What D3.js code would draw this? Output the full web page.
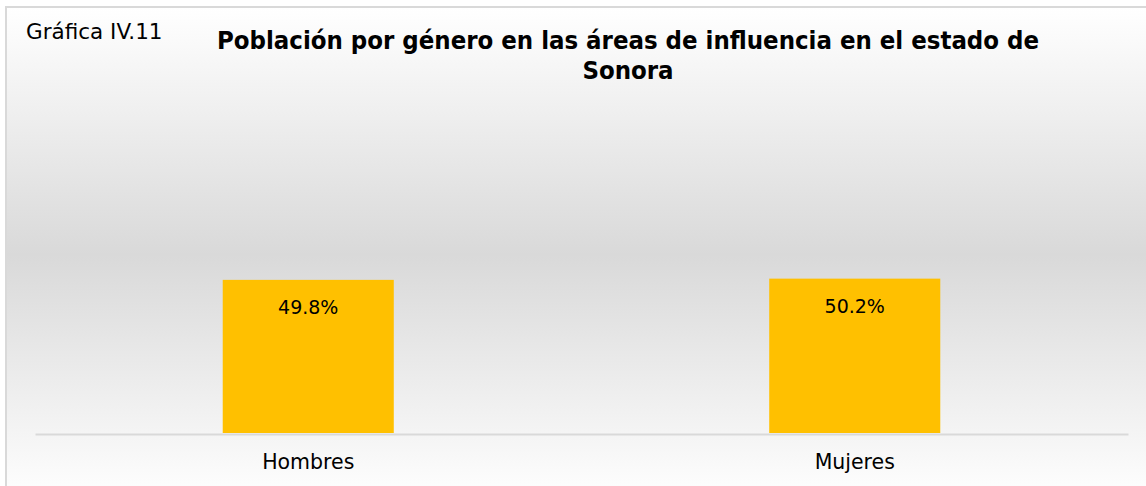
<!DOCTYPE html>
<html>
<head>
<meta charset="utf-8">
<script src="https://cdn.jsdelivr.net/npm/d3@7"></script>
<style>
  body { margin: 0; background: #ffffff; }
  svg { display: block; }
</style>
</head>
<body>
<div id="chart"></div>
<script>
// chart data
var categories = ["Hombres", "Mujeres"];
var values = [0.498, 0.502];
var valueLabels = ["49.8%", "50.2%"];
var chartNumber = "Gráfica IV.11";
var titleLines = ["Población por género en las áreas de influencia en el estado de", "Sonora"];

var svgWidth = 1146;
var svgHeight = 486;

// plot area (axis line at the bottom)
var plot = { left: 35, right: 1128, bottom: 433 };

var svg = d3.select("#chart")
  .append("svg")
  .attr("width", svgWidth)
  .attr("height", svgHeight);

// background gradient: white -> light gray -> white
var defs = svg.append("defs");
var grad = defs.append("linearGradient")
  .attr("id", "bg")
  .attr("x1", 0).attr("y1", 0)
  .attr("x2", 0).attr("y2", 1);
grad.append("stop").attr("offset", "0%").attr("stop-color", "#ffffff");
grad.append("stop").attr("offset", "50%").attr("stop-color", "#d9d9d9");
grad.append("stop").attr("offset", "100%").attr("stop-color", "#ffffff");

svg.append("rect")
  .attr("x", 6)
  .attr("y", 7)
  .attr("width", svgWidth + 10)
  .attr("height", svgHeight + 10)
  .attr("fill", "url(#bg)")
  .attr("stroke", "#d9d9d9")
  .attr("stroke-width", 2);

// scales
var xScale = d3.scaleBand()
  .domain(categories)
  .range([plot.left, plot.right])
  .paddingInner(0.687)
  .paddingOuter(0.3435);

var yScale = d3.scaleLinear()
  .domain([0, 0.6])
  .range([plot.bottom, plot.bottom - 0.6 * 307.5]);

// bars
svg.append("g")
  .selectAll("rect")
  .data(values)
  .enter()
  .append("rect")
  .attr("x", (d, i) => xScale(categories[i]))
  .attr("y", d => yScale(d))
  .attr("width", xScale.bandwidth())
  .attr("height", d => yScale(0) - yScale(d))
  .attr("fill", "#ffc000");

// value labels, inside end
svg.append("g")
  .selectAll("text")
  .data(values)
  .enter()
  .append("text")
  .attr("x", (d, i) => xScale(categories[i]) + xScale.bandwidth() / 2)
  .attr("y", d => yScale(d) + 34)
  .attr("text-anchor", "middle")
  .attr("font-family", "DejaVu Sans")
  .attr("font-size", 19)
  .attr("fill", "#000000")
  .text((d, i) => valueLabels[i]);

// x axis
var bottomAxis = d3.axisBottom(xScale).tickSize(0).tickPadding(20);
var xAxis = svg.append("g")
  .attr("transform", `translate(0, ${plot.bottom + 1})`)
  .call(bottomAxis);
xAxis.select(".domain")
  .attr("stroke", "#d9d9d9")
  .attr("stroke-width", 2);
xAxis.selectAll("text")
  .attr("font-family", "DejaVu Sans")
  .attr("font-size", 20.5)
  .attr("fill", "#000000");

// chart number
svg.append("text")
  .attr("x", 26)
  .attr("y", 39)
  .attr("font-family", "DejaVu Sans")
  .attr("font-size", 21.5)
  .attr("fill", "#000000")
  .text(chartNumber);

// title
svg.append("g")
  .selectAll("text")
  .data(titleLines)
  .enter()
  .append("text")
  .attr("x", 628)
  .attr("y", (d, i) => 49 + i * 30)
  .attr("text-anchor", "middle")
  .attr("font-family", "DejaVu Sans Condensed")
  .attr("font-weight", "bold")
  .attr("font-size", 25.5)
  .attr("fill", "#000000")
  .text(d => d);
</script>
</body>
</html>
